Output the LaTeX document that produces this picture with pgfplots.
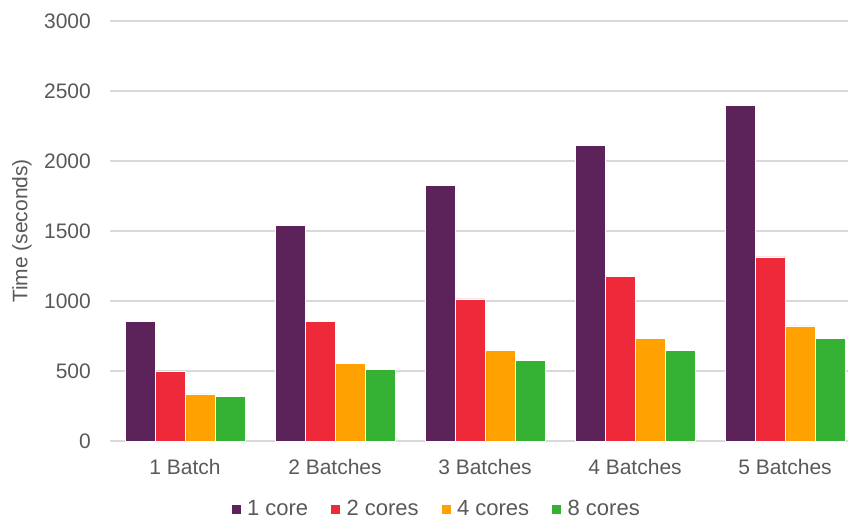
\documentclass[border=0pt]{standalone}
\usepackage{fontspec}
\setmainfont{Liberation Sans}
\usepackage{pgfplots}
\pgfplotsset{compat=1.18}

\definecolor{core1}{RGB}{91,35,89}
\definecolor{core2}{RGB}{237,41,58}
\definecolor{core4}{RGB}{255,161,0}
\definecolor{core8}{RGB}{53,178,52}
\definecolor{txt}{RGB}{89,89,89}
\definecolor{gridc}{RGB}{217,217,217}

\begin{document}
\begin{tikzpicture}
\path[use as bounding box] (0,0) rectangle (850pt,522pt);
\begin{axis}[
  at={(110pt,81pt)}, anchor=south west,
  scale only axis,
  width=738pt, height=420pt,
  xmin=-0.5, xmax=4.42,
  ymin=0, ymax=3000,
  ytick={0,500,...,3000},
  xtick={0,1,2,3,4},
  xticklabels={1 Batch,2 Batches,3 Batches,4 Batches,5 Batches},
  major tick length=0pt,
  axis line style={draw=none},
  ymajorgrids,
  grid style={gridc, line width=1.3pt},
  /pgf/number format/assume math mode=true,
  /pgf/number format/1000 sep={},
  tick label style={font=\fontsize{21}{25}\selectfont, text=txt},
  yticklabel style={anchor=east, inner sep=0pt, xshift=-19pt},
  xticklabel style={anchor=base, inner sep=0pt, yshift=-33pt},
  ylabel={Time (seconds)},
  ylabel style={at={(axis description cs:-0.1192,0.5)}, anchor=center,
    font=\fontsize{21}{25}\selectfont, text=txt},
  ybar, bar width=30pt,
  legend columns=4,
  legend style={at={(axis description cs:0.442,-0.162)}, anchor=center,
    draw=none, fill=none, font=\fontsize{22}{26}\selectfont, text=txt,
    /tikz/every odd column/.append style={column sep=4pt},
    /tikz/every even column/.append style={column sep=20pt}},
  legend image code/.code={\fill[#1] (0pt,-5pt) rectangle (10pt,5pt);},
]
\addplot[fill=core1, draw=white, line width=0.4pt, bar shift=-45pt]
  coordinates {(0,855) (1,1540) (2,1828) (3,2112) (4,2395)};
\addplot[fill=core2, draw=white, line width=0.4pt, bar shift=-15pt]
  coordinates {(0,496) (1,855) (2,1016) (3,1175) (4,1316)};
\addplot[fill=core4, draw=white, line width=0.4pt, bar shift=15pt]
  coordinates {(0,336) (1,557) (2,646) (3,734) (4,822)};
\addplot[fill=core8, draw=white, line width=0.4pt, bar shift=45pt]
  coordinates {(0,319) (1,512) (2,574) (3,646) (4,734)};
\legend{1 core,2 cores,4 cores,8 cores}
\end{axis}
\end{tikzpicture}
\end{document}
